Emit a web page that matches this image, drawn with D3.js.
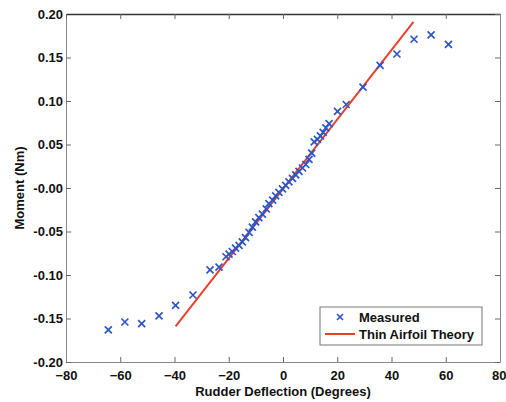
<!DOCTYPE html>
<html>
<head>
<meta charset="utf-8">
<script src="https://cdn.jsdelivr.net/npm/d3@7"></script>
<style>
  body { margin: 0; background: #fff; }
  text { font-family: "Liberation Sans", Arial, sans-serif; font-weight: bold; fill: #111; }
</style>
</head>
<body>
<svg id="chart" width="506" height="402"></svg>
<script>
// measured rudder moment vs deflection
let deflection = [-64.4, -58.3, -52.1, -45.7, -39.6, -33.2, -26.9, -23.6, -21.0, -19.9,
    -18.7, -17.5, -16.2, -15.0, -13.8, -12.5, -11.3, -10.1, -8.9, -7.6,
    -6.2, -5.2, -3.8, -2.7, -1.5, -0.2, 1.0, 2.2, 3.5, 4.7,
    5.9, 7.2, 8.4, 9.6, 10.6, 11.5, 12.7, 13.8, 14.8, 15.8,
    17.0, 20.1, 23.3, 29.5, 35.8, 42.0, 48.3, 54.6, 61.0];
let moment = [-0.163, -0.154, -0.156, -0.147, -0.135, -0.123, -0.094, -0.091, -0.079, -0.076,
    -0.073, -0.069, -0.066, -0.062, -0.057, -0.051, -0.045, -0.039, -0.034, -0.030,
    -0.024, -0.018, -0.014, -0.009, -0.005, -0.001, 0.003, 0.007, 0.011, 0.015,
    0.019, 0.023, 0.027, 0.033, 0.040, 0.053, 0.056, 0.060, 0.064, 0.069,
    0.074, 0.088, 0.096, 0.116, 0.141, 0.154, 0.171, 0.176, 0.165];

// thin airfoil theory line end points
let theoryX = [-39.6, 48.1];
let theoryY = [-0.159, 0.191];

let xTicks = [-80, -60, -40, -20, 0, 20, 40, 60, 80];
let yTicks = [0.20, 0.15, 0.10, 0.05, 0.00, -0.05, -0.10, -0.15, -0.20];

let margin = {left: 66, right: 6, top: 14, bottom: 40};
let width = 506, height = 402;

let svg = d3.select("#chart");

let x = d3.scaleLinear().domain([-80, 80]).range([margin.left, width - margin.right]);
let y = d3.scaleLinear().domain([-0.2, 0.2]).range([height - margin.bottom, margin.top]);

let fmtY = (d) => {
    let s = d3.format(".2f")(Math.abs(d));
    return (d <= 0 ? "-" : "") + s;
};

// axes with inward ticks
let bottomAxis = svg.append("g")
    .attr("transform", "translate(0," + y(-0.2) + ")")
    .call(d3.axisBottom(x).tickValues(xTicks).tickSizeInner(-5).tickSizeOuter(0).tickPadding(9));
let leftAxis = svg.append("g")
    .attr("transform", "translate(" + x(-80) + ",0)")
    .call(d3.axisLeft(y).tickValues(yTicks).tickSizeInner(-5).tickSizeOuter(0).tickPadding(3).tickFormat(fmtY));
let topAxis = svg.append("g")
    .attr("transform", "translate(0," + y(0.2) + ")")
    .call(d3.axisTop(x).tickValues(xTicks).tickSizeInner(-5).tickSizeOuter(0).tickFormat(""));
let rightAxis = svg.append("g")
    .attr("transform", "translate(" + x(80) + ",0)")
    .call(d3.axisRight(y).tickValues(yTicks).tickSizeInner(-5).tickSizeOuter(0).tickFormat(""));

[bottomAxis, leftAxis, topAxis, rightAxis].forEach((g) => {
    g.selectAll("path").attr("stroke", "#888").attr("stroke-width", 1);
    g.selectAll("line").attr("stroke", "#666");
    g.selectAll("text").style("font-size", "13px").attr("fill", "#111");
});
topAxis.select("path").attr("stroke", "#333").attr("stroke-width", 1.5);

// keep the last x label inside the window
bottomAxis.selectAll(".tick text")
    .filter((d) => d === 80)
    .attr("text-anchor", "end")
    .attr("dx", 6);

// theory line
svg.append("path")
    .datum(d3.zip(theoryX, theoryY))
    .attr("fill", "none")
    .attr("stroke", "#e8402c")
    .attr("stroke-width", 2)
    .attr("d", d3.line().x((d) => x(d[0])).y((d) => y(d[1])));

// measured crosses
let cross = (sel, s) => {
    sel.append("path")
        .attr("d", "M" + (-s) + "," + (-s) + "L" + s + "," + s + "M" + (-s) + "," + s + "L" + s + "," + (-s))
        .attr("stroke", "#2f55c4")
        .attr("stroke-width", 1.7)
        .attr("fill", "none");
};

svg.append("g").selectAll("g")
    .data(d3.zip(deflection, moment))
    .enter()
    .append("g")
    .attr("transform", (d) => "translate(" + x(d[0]) + "," + y(d[1]) + ")")
    .call(cross, 3.5);

// axis titles
svg.append("text")
    .attr("x", x(0))
    .attr("y", 396)
    .attr("text-anchor", "middle")
    .style("font-size", "13px")
    .text("Rudder Deflection (Degrees)");
svg.append("text")
    .attr("transform", "translate(24," + y(0) + ") rotate(-90)")
    .attr("text-anchor", "middle")
    .style("font-size", "13px")
    .text("Moment (Nm)");

// legend
let legend = svg.append("g");
legend.append("rect")
    .attr("x", 320).attr("y", 307)
    .attr("width", 162).attr("height", 38)
    .attr("fill", "#fff")
    .attr("stroke", "#777");
legend.append("g")
    .attr("transform", "translate(340,317)")
    .call(cross, 3);
legend.append("line")
    .attr("x1", 325).attr("x2", 355)
    .attr("y1", 334).attr("y2", 334)
    .attr("stroke", "#e8402c")
    .attr("stroke-width", 2);
legend.append("text")
    .attr("x", 359).attr("y", 321.5)
    .style("font-size", "13px")
    .text("Measured");
legend.append("text")
    .attr("x", 359).attr("y", 339)
    .style("font-size", "13px")
    .text("Thin Airfoil Theory");
</script>
</body>
</html>
